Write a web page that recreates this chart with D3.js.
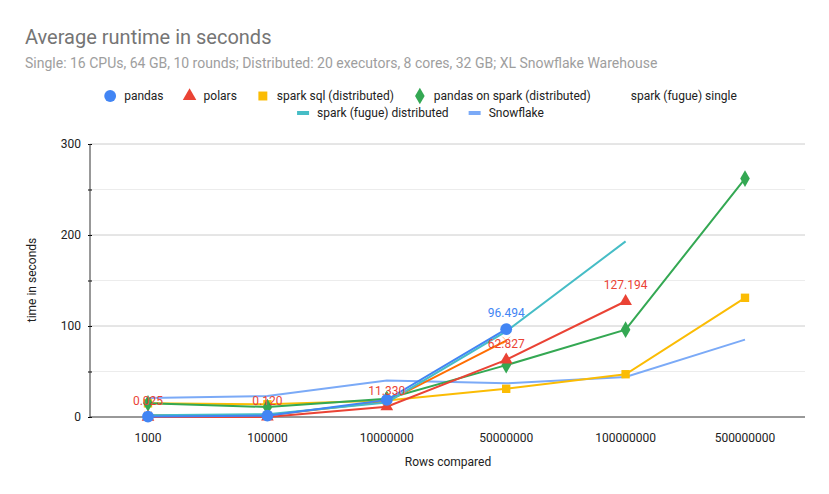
<!DOCTYPE html><html><head><meta charset="utf-8"><script src="https://cdn.jsdelivr.net/npm/d3@7"></script>
<style>body{margin:0;background:#fff}text{font-family:Roboto,Arial,sans-serif}</style></head><body><svg id="c" width="829" height="494"></svg>
<script>
const categories=["1000","100000","10000000","50000000","100000000","500000000"];
const pandas=[0.5,1.5,18.804,96.494,null,null];
const polars=[0.025,0.120,11.330,62.827,127.194,null];
const sparkSql=[15,14,18,31,47,131];
const pandasOnSpark=[15,11,20,57,96,262];
const fugueSingle=[2,2,17,84,null,null];
const fugueDist=[2,3,16,94,193,null];
const snowflake=[21,23,40,37,44,85];
const yTicks=[0,100,200,300];
const series=[
 {name:"pandas",v:pandas,c:"#4285f4",m:"circle",labels:[3]},
 {name:"polars",v:polars,c:"#ea4335",m:"triangle",labels:[0,1,2,3,4]},
 {name:"spark sql (distributed)",v:sparkSql,c:"#fbbc04",m:"square"},
 {name:"pandas on spark (distributed)",v:pandasOnSpark,c:"#34a853",m:"diamond"},
 {name:"spark (fugue) single",v:fugueSingle,c:"#ff6d01",m:"cross"},
 {name:"spark (fugue) distributed",v:fugueDist,c:"#46bdc6",m:null},
 {name:"Snowflake",v:snowflake,c:"#7baaf7",m:null}];
const svg=d3.select("#c");
const x=d3.scalePoint().domain(categories).range([148,745]);
const y=d3.scaleLinear().domain([0,300]).range([417,144]);
svg.append("text").attr("x",25).attr("y",44).attr("font-size",20).attr("fill","#757575").text("Average runtime in seconds");
svg.append("text").attr("x",25).attr("y",68).attr("font-size",14).attr("fill","#9e9e9e").text("Single: 16 CPUs, 64 GB, 10 rounds; Distributed: 20 executors, 8 cores, 32 GB; XL Snowflake Warehouse");
[50,150,250].forEach(t=>svg.append("line").attr("x1",90).attr("x2",805).attr("y1",y(t)).attr("y2",y(t)).attr("stroke","#ececec"));
yTicks.slice(1).forEach(t=>svg.append("line").attr("x1",90).attr("x2",805).attr("y1",y(t)).attr("y2",y(t)).attr("stroke","#ccc"));
const ya=svg.append("g").attr("transform","translate(90,0)").call(d3.axisLeft(y).tickValues([0,50,100,150,200,250,300]).tickSize(4).tickFormat(d=>yTicks.includes(d)?d:""));
ya.selectAll("line").attr("transform","translate(2,0)");
ya.selectAll("text").attr("x",-9).attr("font-size",12).attr("fill","#222").attr("font-family","Roboto");
ya.select(".domain").remove();
svg.append("line").attr("x1",90).attr("x2",90).attr("y1",144).attr("y2",417).attr("stroke","#333");
svg.append("line").attr("x1",90).attr("x2",805).attr("y1",417).attr("y2",417).attr("stroke","#333");
categories.forEach(c=>svg.append("text").attr("x",x(c)).attr("y",442).attr("text-anchor","middle").attr("font-size",12).attr("fill","#222").text(c));
svg.append("text").attr("x",448).attr("y",466).attr("text-anchor","middle").attr("font-size",12).attr("fill","#222").text("Rows compared");
svg.append("text").attr("transform","translate(36,280) rotate(-90)").attr("text-anchor","middle").attr("font-size",12).attr("fill","#222").text("time in seconds");
const sym={circle:d3.symbolCircle,triangle:d3.symbolTriangle,square:d3.symbolSquare,diamond:d3.symbolDiamond,cross:d3.symbolX};
const sz={circle:110,triangle:70,square:70,diamond:80,cross:40};
const line=d3.line().defined(d=>d!=null).x((d,i)=>x(categories[i])).y(d=>y(d));
const order=[6,2,3,1,4,5,0];
order.forEach(k=>{const s=series[k];
 svg.append("path").attr("d",line(s.v)).attr("fill","none").attr("stroke",s.c).attr("stroke-width",2);
});
order.forEach(k=>{const s=series[k];if(!s.m)return;
 s.v.forEach((d,i)=>{if(d==null)return;const p=svg.append("path").attr("d",d3.symbol(sym[s.m],sz[s.m])()).attr("transform",`translate(${x(categories[i])},${y(d)})`);
 if(s.m==="cross")p.attr("fill",s.c).attr("stroke",s.c).attr("stroke-width",0.5);else p.attr("fill",s.c);});
});
series.forEach(s=>{(s.labels||[]).forEach(i=>{svg.append("text").attr("x",x(categories[i])).attr("y",y(s.v[i])-12).attr("text-anchor","middle").attr("font-size",12).attr("fill",s.c).text(s.v[i].toFixed(3));});});
// legend
const row1=[0,1,2,3,4],row2=[5,6];
function legendRow(idx,yy){let g=svg.append("g");let xx=0;idx.forEach(k=>{const s=series[k];const gi=g.append("g").attr("transform",`translate(${xx},0)`);
 if(s.m){gi.append("path").attr("d",d3.symbol(sym[s.m],s.m==="circle"?110:80)()).attr("transform","translate(6,0)").attr("fill",s.c);}
 else gi.append("rect").attr("x",0).attr("y",-2).attr("width",12).attr("height",4).attr("fill",s.c);
 const t=gi.append("text").attr("x",20).attr("y",4).attr("font-size",12).attr("fill","#222").text(s.name);
 xx+=20+t.node().getComputedTextLength()+20;});
 g.attr("transform",`translate(${(829-(xx-20))/2+6},${yy})`);}
legendRow(row1,96);legendRow(row2,113);
</script></body></html>
